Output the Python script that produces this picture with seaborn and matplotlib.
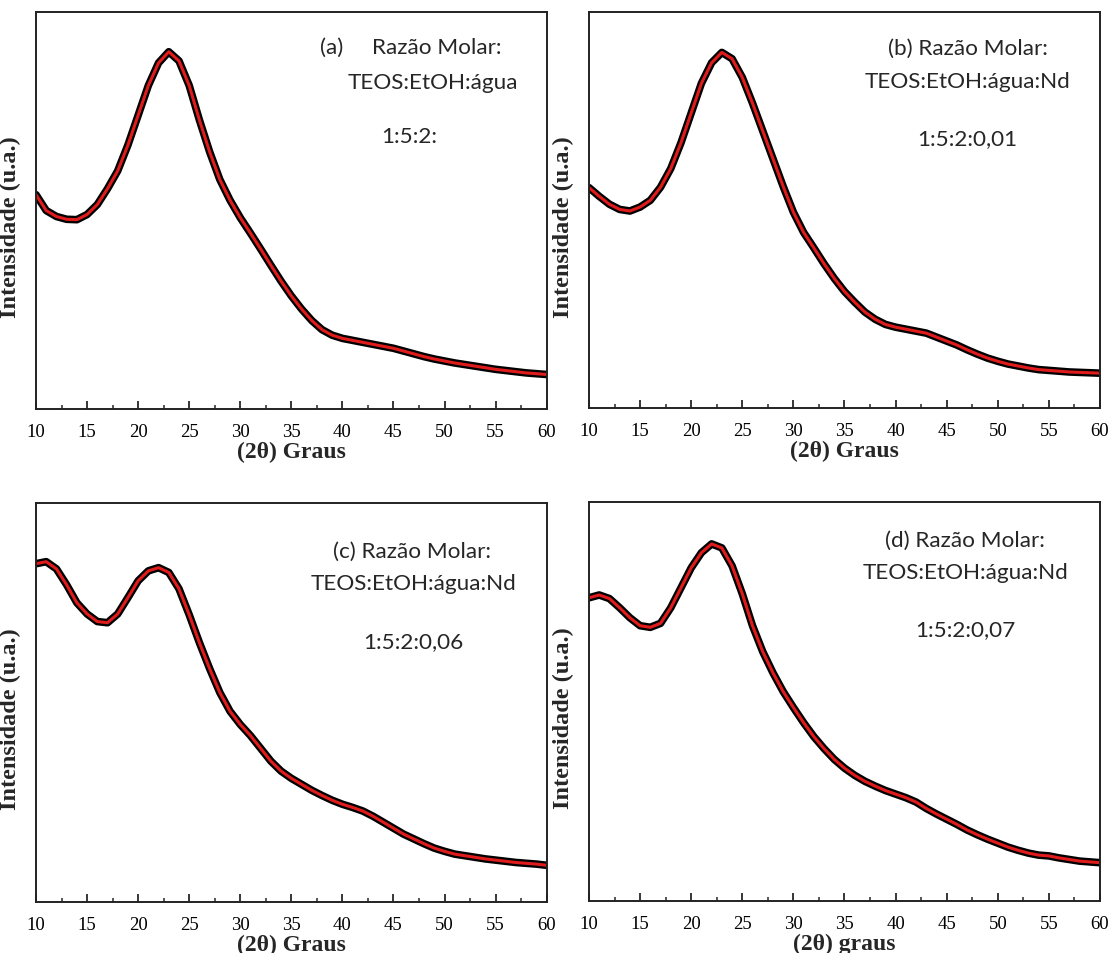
import numpy as np
import pandas as pd
import matplotlib
matplotlib.use("Agg")
import matplotlib.pyplot as plt
from matplotlib.ticker import MultipleLocator
import seaborn as sns

# 2theta (graus) e intensidade normalizada
two_theta = list(range(10, 61))

int_a = [0.540, 0.500, 0.485, 0.478, 0.477, 0.490, 0.515, 0.555, 0.600, 0.665,
         0.740, 0.815, 0.872, 0.900, 0.877, 0.815, 0.728, 0.648, 0.578, 0.526,
         0.482, 0.443, 0.403, 0.362, 0.322, 0.285, 0.252, 0.223, 0.200, 0.186,
         0.178, 0.173, 0.168, 0.163, 0.158, 0.153, 0.146, 0.139, 0.132, 0.126,
         0.121, 0.116, 0.112, 0.108, 0.104, 0.100, 0.097, 0.094, 0.091, 0.089,
         0.087]

int_b = [0.557, 0.535, 0.515, 0.502, 0.498, 0.508, 0.525, 0.558, 0.605, 0.670,
         0.745, 0.820, 0.872, 0.898, 0.882, 0.835, 0.770, 0.700, 0.630, 0.560,
         0.495, 0.444, 0.405, 0.365, 0.328, 0.295, 0.268, 0.243, 0.225, 0.212,
         0.205, 0.200, 0.195, 0.190, 0.180, 0.170, 0.160, 0.148, 0.137, 0.127,
         0.119, 0.112, 0.107, 0.102, 0.098, 0.096, 0.094, 0.092, 0.091, 0.090,
         0.089]

int_c = [0.848, 0.853, 0.835, 0.795, 0.750, 0.722, 0.703, 0.700, 0.722, 0.763,
         0.805, 0.830, 0.838, 0.826, 0.785, 0.720, 0.650, 0.585, 0.525, 0.478,
         0.445, 0.417, 0.385, 0.353, 0.328, 0.310, 0.295, 0.280, 0.267, 0.255,
         0.245, 0.237, 0.228, 0.215, 0.200, 0.185, 0.170, 0.158, 0.146, 0.135,
         0.127, 0.120, 0.116, 0.112, 0.108, 0.105, 0.102, 0.099, 0.097, 0.095,
         0.092]

int_d = [0.760, 0.767, 0.758, 0.735, 0.710, 0.690, 0.686, 0.696, 0.735, 0.785,
         0.835, 0.873, 0.895, 0.885, 0.840, 0.770, 0.690, 0.625, 0.572, 0.525,
         0.485, 0.447, 0.412, 0.382, 0.355, 0.333, 0.315, 0.300, 0.288, 0.277,
         0.268, 0.259, 0.248, 0.232, 0.218, 0.205, 0.192, 0.178, 0.166, 0.155,
         0.145, 0.135, 0.127, 0.120, 0.115, 0.113, 0.108, 0.104, 0.100, 0.098,
         0.096]

labels_1 = ["(a)     Razão Molar:", "(b) Razão Molar:", "(c) Razão Molar:", "(d) Razão Molar:"]
labels_2 = ["TEOS:EtOH:água", "TEOS:EtOH:água:Nd", "TEOS:EtOH:água:Nd", "TEOS:EtOH:água:Nd"]
labels_3 = ["1:5:2:", "1:5:2:0,01", "1:5:2:0,06", "1:5:2:0,07"]
xlabels = ["(2θ) Graus", "(2θ) Graus", "(2θ) Graus", "(2θ) graus"]

sns.set_theme(style="white")
plt.rcParams["font.family"] = ["Liberation Serif", "DejaVu Serif"]

fig = plt.figure(figsize=(11.13, 9.54), dpi=100)

# posicoes dos paineis [left, bottom, width, height]
boxes = [[0.03235, 0.5702, 0.4588, 0.4161],
         [0.5292, 0.5708, 0.4591, 0.4156],
         [0.03235, 0.05346, 0.4588, 0.4182],
         [0.5292, 0.05451, 0.4591, 0.4182]]
text_pos = [(0.734, 0.912, 0.777, 0.824, 0.730, 0.688),
            (0.741, 0.910, 0.741, 0.826, 0.741, 0.683),
            (0.736, 0.879, 0.739, 0.800, 0.738, 0.654),
            (0.736, 0.906, 0.737, 0.824, 0.736, 0.682)]

series = [int_a, int_b, int_c, int_d]

for i in range(4):
    ax = fig.add_axes(boxes[i])
    df = pd.DataFrame({"2theta": two_theta, "I": series[i]})
    # dados (preto) e ajuste (vermelho)
    sns.lineplot(data=df, x="2theta", y="I", ax=ax, color="black", linewidth=5.5,
                 estimator=None, solid_joinstyle="round")
    sns.lineplot(data=df, x="2theta", y="I", ax=ax, color="#e01b1b", linewidth=2.2,
                 estimator=None, solid_joinstyle="round")
    ax.set_xlim(10, 60)
    ax.set_ylim(0, 1)
    ax.set_yticks([])
    ax.xaxis.set_major_locator(MultipleLocator(5))
    ax.xaxis.set_minor_locator(MultipleLocator(2.5))
    ax.tick_params(axis="x", which="major", direction="in", length=5.8, width=1.1,
                   labelsize=13.5, pad=10, bottom=True, colors="black")
    ax.tick_params(axis="x", which="minor", direction="in", length=2.9, width=1.1,
                   bottom=True)
    for sp in ax.spines.values():
        sp.set_color("#222222")
        sp.set_linewidth(1.4)
    ax.set_xlabel(xlabels[i], fontsize=17, fontweight="bold", labelpad=0.5)
    ax.set_ylabel("Intensidade (u.a.)", fontsize=17.5, fontweight="bold")
    ax.yaxis.set_label_coords(-0.029, 0.46)

    tx1, ty1, tx2, ty2, tx3, ty3 = text_pos[i]
    for t, x, y in [(labels_1[i], tx1, ty1), (labels_2[i], tx2, ty2), (labels_3[i], tx3, ty3)]:
        ax.text(x, y, t, transform=ax.transAxes, ha="center", va="center",
                fontsize=16.2, family=["Lato", "DejaVu Sans"])

fig.savefig("out.png", dpi=100)
